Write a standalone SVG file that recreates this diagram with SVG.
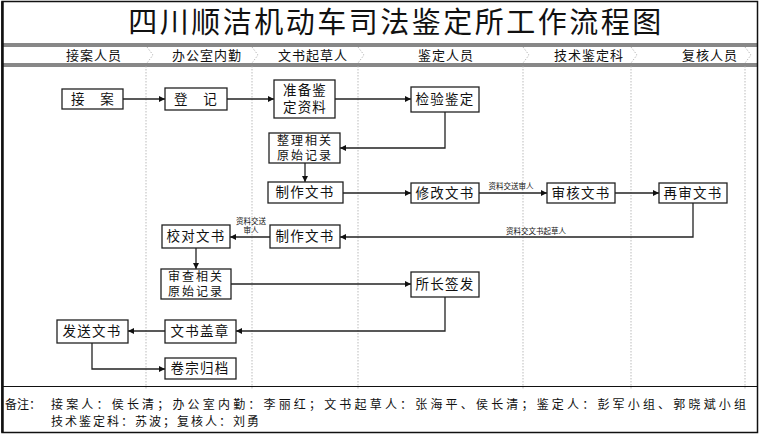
<svg xmlns="http://www.w3.org/2000/svg" width="760" height="435" viewBox="0 0 760 435">
<defs>
<style>
text{font-family:"Noto Sans CJK SC","Liberation Serif",serif;fill:#111;}
.title{font-size:29px;letter-spacing:2.5px;text-anchor:middle;}
.hdr{font-size:13px;letter-spacing:1px;text-anchor:middle;}
.node rect{fill:#fff;stroke:#222;stroke-width:1.3;}
.node text{font-size:13.5px;letter-spacing:1.2px;text-anchor:middle;}
.node text.two{font-size:12px;letter-spacing:2px;}
.lbl{font-size:7.5px;text-anchor:middle;}
.lane{stroke:#aaa;stroke-width:0.8;stroke-dasharray:1.5 1.5;fill:none;}
.edge{stroke:#222;stroke-width:1.3;fill:none;marker-end:url(#ah);}
.note{font-size:12px;}
</style>
<marker id="ah" viewBox="0 0 10 10" refX="10" refY="5" markerWidth="8" markerHeight="6" markerUnits="userSpaceOnUse" orient="auto">
<path d="M0,0 L10,5 L0,10 z" fill="#111"/>
</marker>
</defs>
<rect width="760" height="435" fill="#fff"/>
<g id="frame">
<rect x="2" y="1.5" width="755.5" height="431" fill="none" stroke="#111" stroke-width="1.5"/>
<line x1="2.5" y1="1.5" x2="2.5" y2="432.5" stroke="#111" stroke-width="2.5"/>
<line x1="2" y1="44" x2="757.5" y2="44" stroke="#111" stroke-width="1"/>
<line x1="2" y1="46" x2="757.5" y2="46" stroke="#111" stroke-width="1"/>
<line x1="2" y1="64" x2="757.5" y2="64" stroke="#111" stroke-width="1"/>
<line x1="2" y1="66" x2="757.5" y2="66" stroke="#111" stroke-width="1"/>
<line x1="2" y1="386.5" x2="757.5" y2="386.5" stroke="#111" stroke-width="1"/>
</g>
<text class="title" x="396" y="33">四川顺洁机动车司法鉴定所工作流程图</text>
<g id="header">
<text class="hdr" x="94" y="60">接案人员</text>
<text class="hdr" x="207" y="60">办公室内勤</text>
<text class="hdr" x="313" y="60">文书起草人</text>
<text class="hdr" x="446" y="60">鉴定人员</text>
<text class="hdr" x="589" y="60">技术鉴定科</text>
<text class="hdr" x="710" y="60">复核人员</text>
<polyline class="lane" points="147,47 153,55 147,63"/>
<polyline class="lane" points="252,47 258,55 252,63"/>
<polyline class="lane" points="358,47 364,55 358,63"/>
<polyline class="lane" points="523,47 529,55 523,63"/>
<polyline class="lane" points="631,47 637,55 631,63"/>
<polyline class="lane" points="745,47 751,55 745,63"/>
</g>
<g id="lanes">
<line class="lane" x1="146" y1="66" x2="146" y2="390"/>
<line class="lane" x1="252" y1="66" x2="252" y2="390"/>
<line class="lane" x1="358" y1="66" x2="358" y2="390"/>
<line class="lane" x1="523" y1="66" x2="523" y2="390"/>
<line class="lane" x1="631" y1="66" x2="631" y2="390"/>
<line class="lane" x1="745" y1="66" x2="745" y2="390"/>
</g>
<g id="connectors">
<line class="edge" x1="123" y1="99" x2="165" y2="99"/>
<line class="edge" x1="227" y1="99" x2="274" y2="99"/>
<line class="edge" x1="335" y1="99" x2="411" y2="99"/>
<polyline class="edge" points="445,112 445,148 340,148"/>
<line class="edge" x1="305" y1="163" x2="305" y2="182"/>
<line class="edge" x1="343" y1="193" x2="411" y2="193"/>
<line class="edge" x1="479" y1="193" x2="547" y2="193"/>
<text class="lbl" x="511" y="189">资料交送审人</text>
<line class="edge" x1="615" y1="193" x2="659" y2="193"/>
<polyline class="edge" points="693,203 693,237 340,237"/>
<text class="lbl" x="536" y="234">资料交文书起草人</text>
<line class="edge" x1="270" y1="237" x2="230" y2="237"/>
<text class="lbl" x="251" y="224" font-size="6.5">资料交送<tspan x="251" dy="9">审人</tspan></text>
<line class="edge" x1="196" y1="248" x2="196" y2="269"/>
<line class="edge" x1="231" y1="284" x2="411" y2="284"/>
<polyline class="edge" points="445,297 445,331 236,331"/>
<line class="edge" x1="165" y1="331" x2="128" y2="331"/>
<polyline class="edge" points="92,343 92,369 165,369"/>
</g>
<g id="n-jiean" class="node"><rect x="62" y="89" width="61" height="20"/><text x="93" y="104" letter-spacing="0">接　案</text></g>
<g id="n-dengji" class="node"><rect x="165" y="88" width="62" height="22"/><text x="196" y="104" letter-spacing="0">登　记</text></g>
<g id="n-zhunbei" class="node"><rect x="274" y="80" width="61" height="38"/><text x="305" y="95" font-size="13">准备鉴<tspan x="305" dy="17">定资料</tspan></text></g>
<g id="n-jianyan" class="node"><rect x="411" y="87" width="68" height="25"/><text x="445" y="104" letter-spacing="0.5">检验鉴定</text></g>
<g id="n-zhengli" class="node"><rect x="269" y="133" width="71" height="30"/><text class="two" x="305" y="145">整理相关<tspan x="305" dy="15">原始记录</tspan></text></g>
<g id="n-zhizuo1" class="node"><rect x="268" y="182" width="75" height="21"/><text x="305" y="197">制作文书</text></g>
<g id="n-xiugai" class="node"><rect x="411" y="183" width="68" height="20"/><text x="445" y="198">修改文书</text></g>
<g id="n-shenhe" class="node"><rect x="547" y="183" width="68" height="20"/><text x="581" y="198">审核文书</text></g>
<g id="n-zaishen" class="node"><rect x="659" y="183" width="68" height="20"/><text x="693" y="198">再审文书</text></g>
<g id="n-zhizuo2" class="node"><rect x="270" y="225" width="70" height="23"/><text x="305" y="241">制作文书</text></g>
<g id="n-jiaodui" class="node"><rect x="162" y="225" width="68" height="23"/><text x="196" y="241">校对文书</text></g>
<g id="n-shencha" class="node"><rect x="161" y="269" width="70" height="30"/><text class="two" x="196" y="281">审查相关<tspan x="196" dy="15">原始记录</tspan></text></g>
<g id="n-suozhang" class="node"><rect x="411" y="272" width="68" height="25"/><text x="445" y="289" letter-spacing="0.5">所长签发</text></g>
<g id="n-gaizhang" class="node"><rect x="165" y="320" width="71" height="23"/><text x="200" y="336">文书盖章</text></g>
<g id="n-fasong" class="node"><rect x="57" y="320" width="71" height="23"/><text x="92" y="336">发送文书</text></g>
<g id="n-juanzong" class="node"><rect x="165" y="358" width="71" height="21"/><text x="200" y="373">卷宗归档</text></g>
<g id="notes">
<text class="note" x="5" y="409">备注：</text>
<text class="note" x="51" y="409" textLength="695" lengthAdjust="spacing">接案人：侯长清；办公室内勤：李丽红；文书起草人：张海平、侯长清；鉴定人：彭军小组、郭晓斌小组</text>
<text class="note" x="51" y="426" textLength="208" lengthAdjust="spacing">技术鉴定科：苏波；复核人：刘勇</text>
</g>
</svg>
